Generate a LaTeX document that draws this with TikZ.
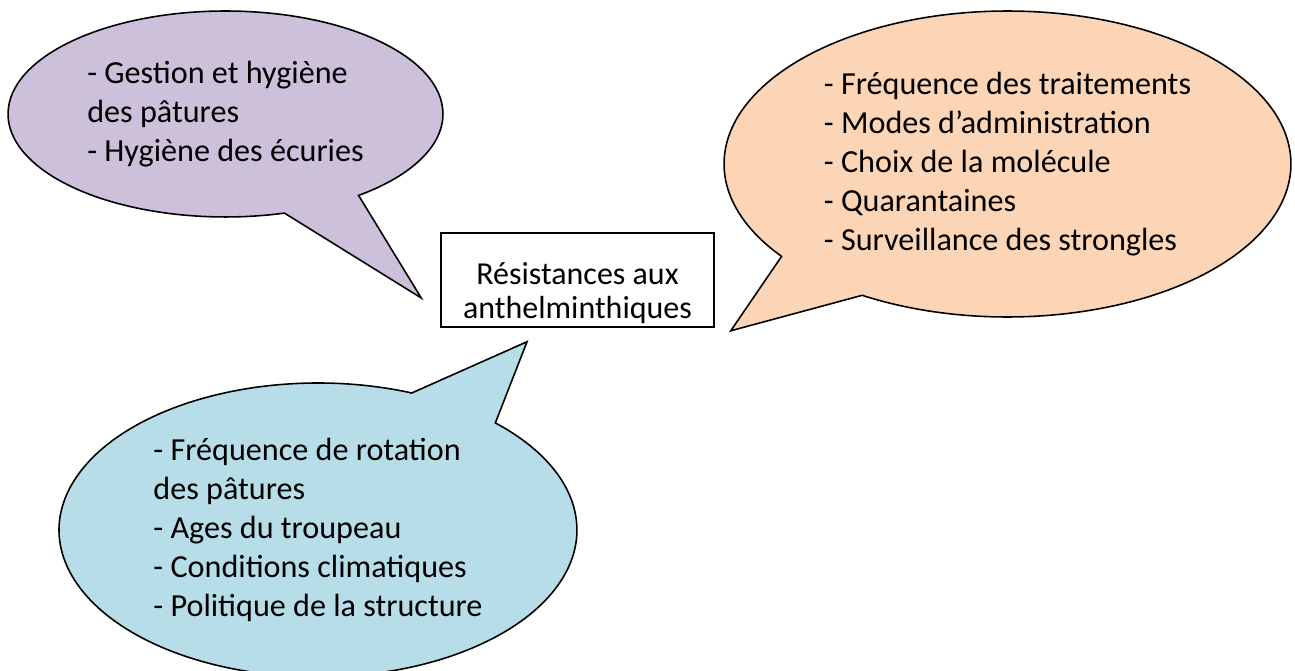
\documentclass[tikz,border=0pt]{standalone}
\usepackage{fontspec}
\setmainfont{Carlito}
\usepackage{tikz}
\usepackage{xcolor}
\usetikzlibrary{shapes.callouts,calc}

\definecolor{bulleMauve}{HTML}{CCC0DA}
\definecolor{bulleOrange}{HTML}{FBD5B5}
\definecolor{bulleBleu}{HTML}{B7DEE8}

\begin{document}
\begin{tikzpicture}[x=0.02cm,y=-0.02cm,
    bulle/.style={
        ellipse callout,
        draw=black,
        line width=0.9pt,
        callout pointer arc=22,
        inner sep=0pt,
        align=left,
        font=\fontsize{18.3}{22.2}\selectfont
    }]

\useasboundingbox (0,0) rectangle (1295,671);

\node[
    draw=black,
    line width=0.9pt,
    fill=white,
    minimum width=5.46cm,
    minimum height=1.88cm,
    inner sep=0pt,
    text height=48pt,
    text depth=4pt,
    align=center,
    font=\fontsize{18.2}{19.6}\selectfont
] (res) at (577.5,280)
{Résistances aux\\anthelminthiques};

\node[
    bulle,
    fill=bulleMauve,
    minimum width=8.7cm,
    minimum height=4.12cm,
    callout absolute pointer={($(res.west)+(-19,18)$)}
] (gestion) at (225.5,114)
{- Gestion et hygiène\\des pâtures\\- Hygiène des écuries};

\node[
    bulle,
    fill=bulleOrange,
    minimum width=11.34cm,
    minimum height=6.12cm,
    callout absolute pointer={($(res.south east)+(16,3)$)}
] (traitements) at (1007.5,164)
{- Fréquence des traitements\\- Modes d’administration\\- Choix de la molécule\\- Quarantaines\\- Surveillance des strongles};

\node[
    bulle,
    fill=bulleBleu,
    minimum width=10.36cm,
    minimum height=5.88cm,
    callout absolute pointer={($(res.south)+(-50.5,14)$)}
] (elevage) at (318,530)
{- Fréquence de rotation\\des pâtures\\- Ages du troupeau\\- Conditions climatiques\\- Politique de la structure};

\end{tikzpicture}
\end{document}
